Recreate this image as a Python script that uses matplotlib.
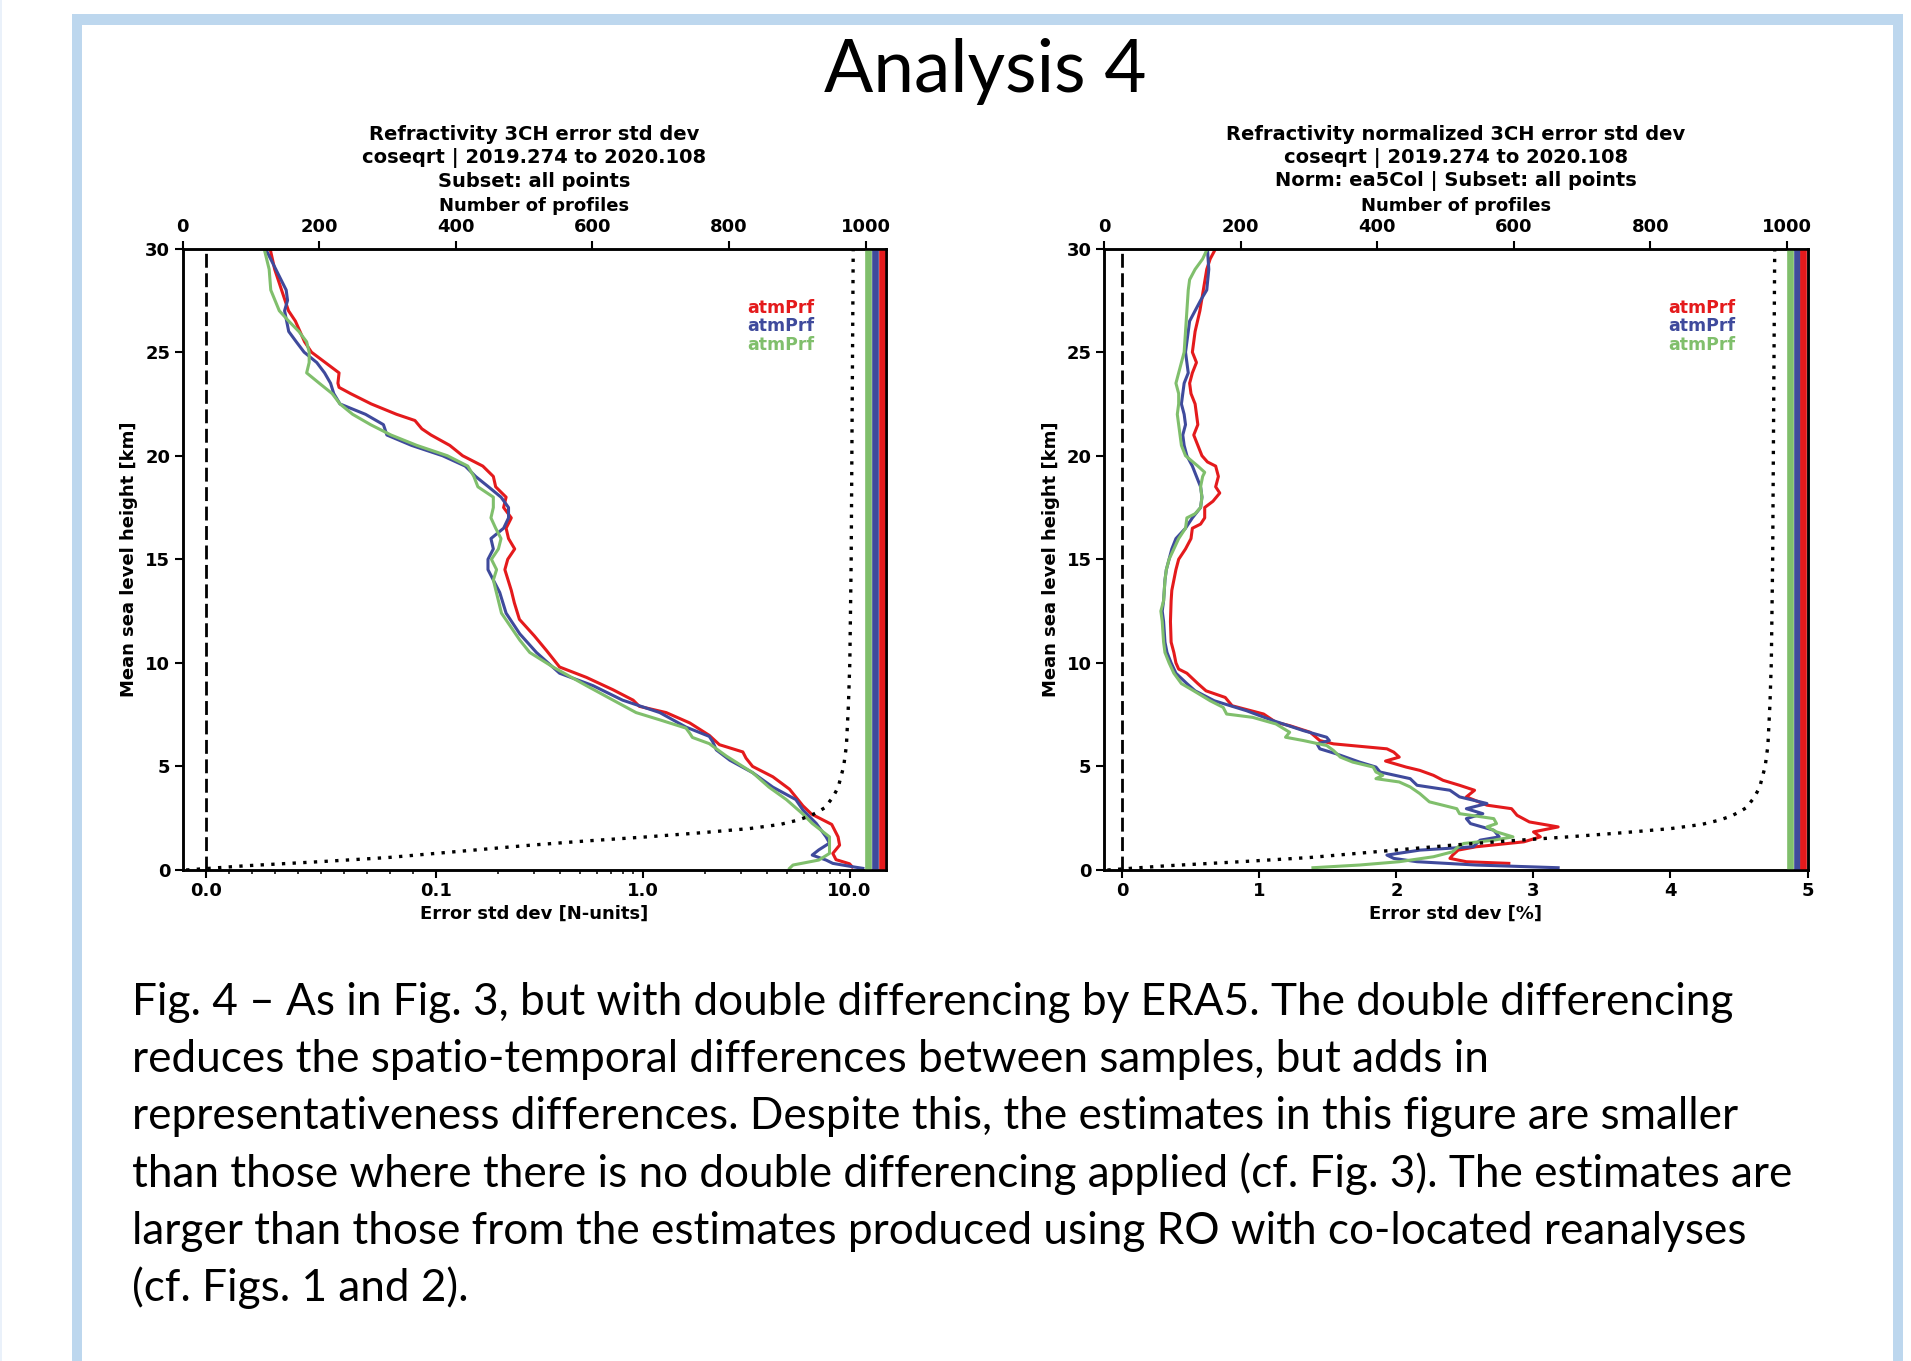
import matplotlib
matplotlib.use('Agg')
import matplotlib.pyplot as plt
from matplotlib.patches import Rectangle

# ---- data ------------------------------------------------------------------
# (height km, error std dev) pairs, left panel in N-units
left_red = [(30, 0.028), (29, 0.030), (28, 0.033), (27, 0.036), (26.5, 0.039), (26, 0.041),
            (25.5, 0.043), (25, 0.046), (24.5, 0.052), (24, 0.058), (23.5, 0.0575), (23.3, 0.058),
            (23, 0.063), (22.5, 0.072), (22, 0.083), (21.7, 0.091), (21.3, 0.094), (21, 0.098),
            (20.5, 0.117), (20, 0.135), (19.5, 0.169), (19, 0.190), (18.5, 0.195), (18, 0.219),
            (17.5, 0.213), (17, 0.232), (16.5, 0.219), (16, 0.225), (15.5, 0.241), (15, 0.223),
            (14.5, 0.216), (13.5, 0.232), (12.9, 0.240), (12.1, 0.254), (11.3, 0.300), (10.6, 0.343),
            (9.8, 0.397), (9.3, 0.535), (8.7, 0.72), (8.2, 0.90), (7.9, 0.965), (7.6, 1.30),
            (7.1, 1.69), (6.5, 2.10), (6.05, 2.35), (5.7, 3.05), (5.4, 3.16), (5.0, 3.40),
            (4.5, 4.26), (3.9, 5.13), (3.1, 5.95), (2.7, 6.55), (2.2, 8.2), (1.6, 8.8),
            (1.2, 8.95), (0.8, 8.3), (0.5, 8.6), (0.3, 10.0), (0.15, 10.3)]
left_blue = [(30, 0.026), (29, 0.0305), (28, 0.035), (27.5, 0.0356), (27, 0.0343), (26, 0.0361),
             (25.5, 0.0394), (25, 0.0428), (24.5, 0.0483), (24, 0.0517), (23.5, 0.0543), (23, 0.0557),
             (22.5, 0.0584), (22, 0.0695), (21.5, 0.0773), (21, 0.0788), (20.5, 0.0895), (20, 0.108),
             (19.5, 0.139), (19, 0.156), (18.5, 0.180), (18, 0.207), (17.5, 0.225), (17, 0.225),
             (16.5, 0.213), (16, 0.185), (15.5, 0.190), (15, 0.179), (14.5, 0.179), (13.4, 0.204),
             (12.4, 0.219), (11.4, 0.255), (10.5, 0.307), (9.5, 0.397), (8.9, 0.576), (8.2, 0.80),
             (7.6, 1.21), (6.9, 1.62), (6.45, 2.10), (6.2, 2.18), (5.8, 2.27), (5.3, 2.64),
             (4.7, 3.40), (4.0, 4.26), (3.4, 5.5), (2.9, 5.95), (2.25, 6.9), (1.6, 7.7),
             (1.3, 8.0), (0.97, 7.1), (0.72, 6.6), (0.48, 7.7), (0.32, 8.3), (0.16, 10.3),
             (0.08, 11.6)]
left_green = [(30, 0.0254), (29, 0.0276), (28, 0.0283), (27, 0.032), (26.5, 0.0361), (26, 0.0405),
              (25.5, 0.0439), (25, 0.045), (24.5, 0.045), (24, 0.0439), (23.5, 0.0494), (23, 0.055),
              (22.5, 0.0584), (22, 0.0639), (21.5, 0.0717), (21, 0.0806), (20.5, 0.0918), (20, 0.114),
              (19.5, 0.143), (19, 0.153), (18.5, 0.160), (18, 0.190), (17.5, 0.190), (17, 0.185),
              (16.5, 0.195), (16, 0.207), (15.5, 0.201), (15, 0.186), (14.5, 0.197), (14, 0.190),
              (12.4, 0.208), (11.1, 0.255), (10.5, 0.285), (9.8, 0.369), (8.9, 0.535), (8.2, 0.72),
              (7.6, 0.93), (7.25, 1.21), (6.85, 1.62), (6.6, 1.69), (6.4, 1.74), (6.1, 2.10),
              (5.5, 2.54), (4.7, 3.40), (4.0, 4.08), (3.4, 4.95), (2.7, 5.95), (2.25, 6.6),
              (1.6, 8.0), (1.1, 8.0), (0.8, 8.0), (0.48, 7.1), (0.24, 5.33), (0.08, 5.13)]

# right panel, normalized error std dev in %
right_red = [(30, 0.68), (29.5, 0.64), (29, 0.615), (28, 0.59), (27, 0.565), (26, 0.53), (25, 0.51),
             (24.5, 0.54), (24, 0.51), (23.5, 0.49), (23, 0.50), (22.5, 0.53), (22, 0.54), (21.5, 0.55),
             (21, 0.52), (20.5, 0.55), (20, 0.58), (19.7, 0.62), (19.5, 0.68), (19, 0.70), (18.5, 0.68),
             (18.2, 0.71), (17.8, 0.66), (17.5, 0.60), (17, 0.60), (16.7, 0.57), (16.5, 0.51),
             (16, 0.50), (15.5, 0.46), (15, 0.41), (14.5, 0.39), (14, 0.375), (13.5, 0.36),
             (13, 0.355), (12, 0.35), (11, 0.355), (10.5, 0.375), (10, 0.39), (9.7, 0.41),
             (9.5, 0.47), (9, 0.55), (8.65, 0.61), (8.33, 0.75), (7.93, 0.80), (7.53, 1.03),
             (7.13, 1.12), (6.97, 1.22), (6.65, 1.37), (6.25, 1.44), (6.09, 1.54), (5.85, 1.93),
             (5.69, 1.98), (5.45, 2.02), (5.26, 1.92), (4.97, 2.07), (4.81, 2.17), (4.57, 2.27),
             (4.33, 2.34), (4.09, 2.46), (3.85, 2.57), (3.53, 2.51), (3.13, 2.66), (2.96, 2.84),
             (2.64, 2.88), (2.32, 2.97), (2.08, 3.18), (1.84, 3.00), (1.60, 3.05), (1.36, 2.93),
             (1.12, 2.58), (0.96, 2.45), (0.72, 2.41), (0.56, 2.39), (0.40, 2.51), (0.32, 2.82)]
right_blue = [(30, 0.62), (29, 0.63), (28, 0.615), (27.5, 0.57), (27, 0.53), (26.5, 0.49), (26, 0.48),
              (25, 0.46), (24, 0.48), (23.5, 0.45), (23, 0.44), (22.5, 0.43), (22, 0.45), (21.5, 0.46),
              (21, 0.44), (20.5, 0.45), (20, 0.47), (19.5, 0.51), (19, 0.54), (18.5, 0.57), (18, 0.58),
              (17.5, 0.57), (17, 0.51), (16.5, 0.46), (16, 0.39), (15.5, 0.36), (15, 0.34),
              (14.5, 0.32), (14, 0.31), (13, 0.30), (12.5, 0.29), (12, 0.30), (11, 0.31),
              (10.5, 0.325), (10, 0.355), (9.5, 0.39), (9, 0.47), (8.65, 0.53), (8.17, 0.67),
              (7.69, 0.905), (7.21, 1.10), (6.73, 1.32), (6.41, 1.49), (6.25, 1.51), (6.09, 1.42),
              (5.85, 1.44), (5.61, 1.56), (5.21, 1.73), (4.97, 1.85), (4.73, 1.88), (4.41, 2.10),
              (4.09, 2.15), (3.85, 2.39), (3.53, 2.46), (3.21, 2.66), (2.96, 2.51), (2.72, 2.63),
              (2.48, 2.51), (2.24, 2.54), (1.92, 2.71), (1.60, 2.75), (1.44, 2.61), (1.12, 2.56),
              (0.96, 2.17), (0.72, 1.93), (0.56, 1.98), (0.40, 2.15), (0.24, 2.58), (0.11, 3.18)]
right_green = [(30, 0.62), (29.5, 0.585), (29, 0.53), (28.5, 0.49), (28, 0.48), (27, 0.47), (26, 0.46),
               (25, 0.45), (24.5, 0.43), (24, 0.41), (23.5, 0.39), (23, 0.41), (22.5, 0.41), (22, 0.40),
               (21.5, 0.41), (21, 0.42), (20.5, 0.43), (20, 0.46), (19.5, 0.55), (19.2, 0.60),
               (19, 0.585), (18.5, 0.57), (18, 0.58), (17.5, 0.57), (17.2, 0.53), (17, 0.47),
               (16.5, 0.46), (16, 0.41), (15.5, 0.375), (15, 0.34), (14.5, 0.32), (14, 0.31),
               (13, 0.30), (12.5, 0.28), (12, 0.29), (11, 0.30), (10.5, 0.31), (10, 0.34),
               (9.5, 0.375), (9, 0.43), (8.65, 0.52), (8.17, 0.64), (7.85, 0.735), (7.53, 0.76),
               (7.37, 0.95), (7.05, 1.12), (6.65, 1.22), (6.41, 1.19), (6.25, 1.32), (6.01, 1.49),
               (5.77, 1.54), (5.45, 1.59), (5.21, 1.68), (4.97, 1.83), (4.73, 1.85), (4.57, 1.90),
               (4.41, 1.85), (4.25, 2.02), (4.01, 2.10), (3.69, 2.17), (3.29, 2.24), (2.96, 2.44),
               (2.72, 2.46), (2.48, 2.71), (2.24, 2.73), (2.08, 2.66), (1.84, 2.73), (1.60, 2.85),
               (1.44, 2.71), (1.28, 2.49), (1.12, 2.45), (0.88, 2.41), (0.64, 2.27), (0.40, 2.02),
               (0.24, 1.73), (0.11, 1.39)]

# number of profiles per level (dotted) and per data set (thick bars)
prof_height = [0, 0.2, 0.4, 0.6, 0.8, 1.0, 1.2, 1.4, 1.6, 1.8, 2.0, 2.2, 2.4, 2.6, 2.8, 3.0,
               3.5, 4.0, 5.0, 6.0, 8, 10, 15, 20, 25, 30]
prof_count = [5, 90, 200, 300, 370, 440, 510, 590, 680, 760, 830, 875, 900, 918, 930, 940,
              952, 960, 968, 972, 975, 977, 979, 980, 981, 982]
set_counts = [1004, 1014, 1024]

labels = ['atmPrf', 'atmPrf', 'atmPrf']
colors = ['#e41a1c', '#3f4a9c', '#80bf6c']

titles = [
    'Refractivity 3CH error std dev\ncoseqrt | 2019.274 to 2020.108\nSubset: all points',
    'Refractivity normalized 3CH error std dev\ncoseqrt | 2019.274 to 2020.108\n'
    'Norm: ea5Col | Subset: all points',
]
xlabels = ['Error std dev [N-units]', 'Error std dev [%]']

caption = [
    'Fig. 4 \u2013 As in Fig. 3, but with double differencing by ERA5. The double differencing',
    'reduces the spatio-temporal differences between samples, but adds in',
    'representativeness differences. Despite this, the estimates in this figure are smaller',
    'than those where there is no double differencing applied (cf. Fig. 3). The estimates are',
    'larger than those from the estimates produced using RO with co-located reanalyses',
    '(cf. Figs. 1 and 2).',
]

# ---- layout ---------------------------------------------------------------
W, H = 1911, 1361
DPI = 100
plt.rcParams['font.family'] = 'DejaVu Sans'
plt.rcParams['font.weight'] = 'bold'
plt.rcParams['axes.labelweight'] = 'bold'
plt.rcParams['axes.linewidth'] = 1.8

fig = plt.figure(figsize=(W / DPI, H / DPI), dpi=DPI)


def px_rect(x0, y0, x1, y1, color):
    fig.add_artist(Rectangle((x0 / W, 1 - y1 / H), (x1 - x0) / W, (y1 - y0) / H,
                             transform=fig.transFigure, color=color, lw=0, zorder=0))


# slide frame
frame_c = '#bdd7ee'
px_rect(72, 14, 82, H + 5, frame_c)
px_rect(1893, 14, 1903, H + 5, frame_c)
px_rect(72, 14, 1903, 25, frame_c)
px_rect(0, 0, 2, H, '#eaf1fa')

fig.text(985 / W, 1 - 92 / H, 'Analysis 4', family='Lato', weight='normal',
         fontsize=52.5, ha='center', va='baseline')

for i, line in enumerate(caption):
    fig.text(132 / W, 1 - (1015 + i * 57.2) / H, line, family='Lato', weight='normal',
             fontsize=31.8, ha='left', va='baseline')

ax_y0 = 1 - 870 / H
ax_h = 621.4 / H
axes_px = [(182.7, 703.3), (1104, 703.5)]
series = [[left_red, left_blue, left_green], [right_red, right_blue, right_green]]

for k, (x0, w) in enumerate(axes_px):
    ax = fig.add_axes([x0 / W, ax_y0, w / W, ax_h])
    for data, lab, c in zip(series[k], labels, colors):
        z, v = zip(*data)
        ax.plot(v, z, color=c, lw=2.2, label=lab)
    ax.axvline(0, color='black', lw=2, ls=(0, (5, 2)))

    if k == 0:
        ax.set_xscale('symlog', linthresh=0.1, linscale=1)
        ax.set_xlim(-0.01, 15)
        ax.set_xticks([0, 0.1, 1, 10])
        ax.set_xticklabels(['0.0', '0.1', '1.0', '10.0'])
        minor = [i / 100 for i in range(1, 10)] + [i / 10 for i in range(2, 10)] + list(range(2, 10))
        ax.set_xticks(minor, minor=True)
    else:
        ax.set_xlim(-0.135, 5)
        ax.set_xticks(range(0, 6))
    ax.set_ylim(0, 30)
    ax.set_yticks(range(0, 31, 5))
    ax.tick_params(which='major', length=5.5, width=1.5, labelsize=13)
    ax.tick_params(which='minor', length=3, width=1.1)
    ax.set_xlabel(xlabels[k], fontsize=13, labelpad=3)
    ax.set_ylabel('Mean sea level height [km]', fontsize=13, labelpad=5)

    # legend as coloured labels
    for j, (lab, c) in enumerate(zip(labels, colors)):
        ax.text(0.898, 0.905 - j * 0.0298, lab, color=c, fontsize=12.5,
                ha='right', va='center', transform=ax.transAxes)

    top = ax.twiny()
    top.plot(prof_count, prof_height, color='black', lw=2.4, ls=(0, (1, 2.2)))
    for n, c in zip(set_counts, colors[::-1]):
        top.plot([n, n], [0, 30], color=c, lw=4.8, solid_capstyle='butt')
    top.set_xlim(0, 1030)
    top.set_ylim(0, 30)
    top.set_xticks(range(0, 1001, 200))
    top.tick_params(length=5.5, width=1.5, labelsize=13)
    top.set_xlabel('Number of profiles', fontsize=13, labelpad=5)

    cx = (x0 + w / 2) / W
    fig.text(cx, 1 - 158 / H, titles[k], fontsize=14, ha='center', va='center',
             linespacing=1.25)

fig.savefig('out.png', dpi=DPI, facecolor='white')
